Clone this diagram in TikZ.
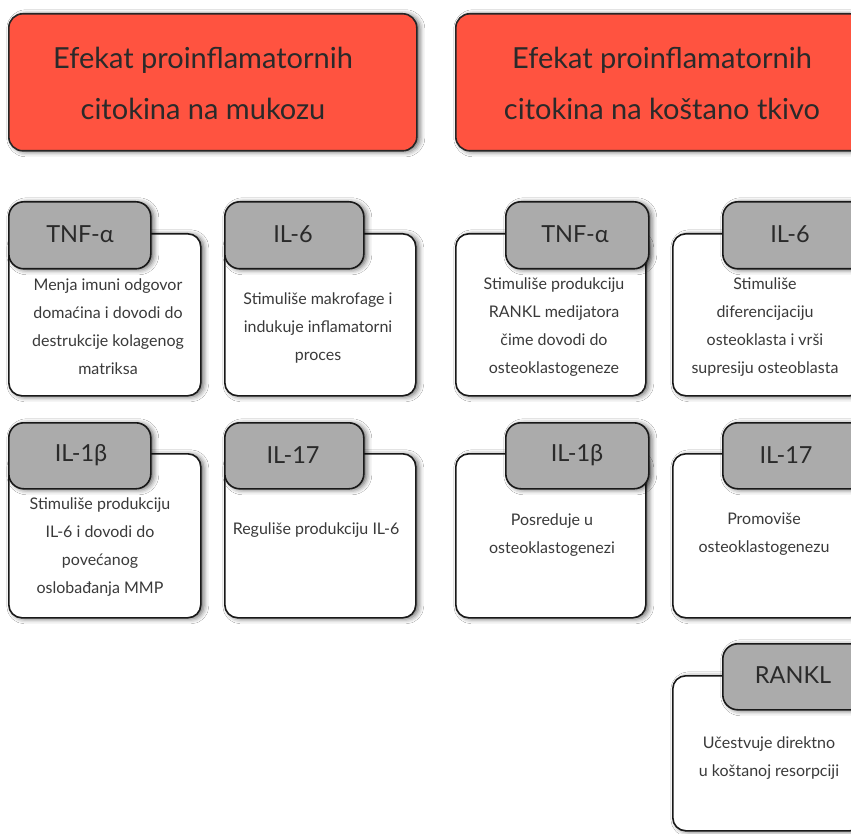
\documentclass[tikz,border=0pt]{standalone}
\usepackage{fontspec}
\setmainfont{Lato}
\usetikzlibrary{shadows.blur}
\definecolor{titlered}{HTML}{FF5340}
\definecolor{headgray}{HTML}{ABABAB}
\definecolor{txt}{HTML}{2A2A2A}
\definecolor{bodytxt}{HTML}{3A3A3A}
\tikzset{
  shad/.style={blur shadow={shadow xshift=3pt, shadow yshift=-1pt, shadow blur radius=5pt, shadow opacity=60}},
  titlebox/.style={draw=black!85, line width=1.6pt, fill=titlered, rounded corners=14pt, shad,
    minimum width=408pt, minimum height=137pt, anchor=north west, inner sep=0pt},
  cardbox/.style={draw=black!90, line width=1.6pt, fill=white, rounded corners=13pt, shad,
    minimum width=191pt, anchor=north west, inner sep=0pt},
  headbox/.style={draw=black!90, line width=1.6pt, fill=headgray, rounded corners=15pt, shad,
    minimum height=67pt, anchor=north west, inner sep=0pt},
  titletext/.style={align=center, text=txt, font=\fontsize{29}{51}\selectfont},
  headtext/.style={text=txt, font=\fontsize{23.5}{28}\selectfont},
  bodytext/.style={align=center, text=bodytxt, font=\fontsize{16}{28}\selectfont},
}
\begin{document}
\begin{tikzpicture}[x=1pt,y=-1pt]
\clip (0,0) rectangle (851,834);
\fill[white] (0,0) rectangle (851,834);
% titles
\node[titlebox] (tL) at (8,13) {};
\node[titlebox] (tR) at (455,13) {};
\node[titletext] (tLt) at (203,83) {Efekat proinflamatornih\\citokina na mukozu};
\node[titletext] (tRt) at (662,83) {Efekat proinflamatornih\\citokina na koštano tkivo};
% left column, row 1
\node[cardbox, minimum height=162pt, minimum width=192pt] (c1) at (8,233) {};
\node[headbox, minimum width=142pt] (h1) at (8,201) {};
\node[cardbox, minimum height=162pt] (c2) at (224,233) {};
\node[headbox, minimum width=139pt] (h2) at (224,201) {};
% left column, row 2
\node[cardbox, minimum height=164pt, minimum width=192pt] (c3) at (8,453) {};
\node[headbox, minimum width=142pt, minimum height=66pt] (h3) at (8,422) {};
\node[cardbox, minimum height=164pt] (c4) at (224,453) {};
\node[headbox, minimum width=139pt, minimum height=66pt] (h4) at (224,422) {};
% right column, row 1
\node[cardbox, minimum height=162pt, minimum width=190pt] (c5) at (455,233) {};
\node[headbox, minimum width=143pt] (h5) at (505,201) {};
\node[cardbox, minimum height=162pt, minimum width=190pt] (c6) at (672,233) {};
\node[headbox, minimum width=143pt] (h6) at (722,201) {};
% right column, row 2
\node[cardbox, minimum height=164pt, minimum width=190pt] (c7) at (455,453) {};
\node[headbox, minimum width=143pt, minimum height=66pt] (h7) at (505,422) {};
\node[cardbox, minimum height=164pt, minimum width=190pt] (c8) at (672,453) {};
\node[headbox, minimum width=143pt, minimum height=66pt] (h8) at (722,422) {};
% RANKL
\node[cardbox, minimum height=155pt, minimum width=190pt] (c9) at (672,675) {};
\node[headbox, minimum width=143pt, minimum height=66pt] (h9) at (722,643) {};
% header texts
\node[headtext] (h1t) at (80,234) {TNF-α};
\node[headtext] (h2t) at (293,234) {IL-6};
\node[headtext] (h3t) at (81,455) {IL-1β};
\node[headtext] (h4t) at (293,455) {IL-17};
\node[headtext] (h5t) at (575,234) {TNF-α};
\node[headtext] (h6t) at (790,234) {IL-6};
\node[headtext] (h7t) at (577,455) {IL-1β};
\node[headtext] (h8t) at (786,455) {IL-17};
\node[headtext] (h9t) at (793,675) {RANKL};
% body texts
\node[bodytext] (b1) at (108,327) {Menja imuni odgovor\\domaćina i dovodi do\\destrukcije kolagenog\\matriksa};
\node[bodytext] (b2) at (318,328) {Stimuliše makrofage i\\indukuje inflamatorni\\proces};
\node[bodytext] (b3) at (100,547) {Stimuliše produkciju\\IL-6 i dovodi do\\povećanog\\oslobađanja MMP};
\node[bodytext] (b4) at (316,530) {Reguliše produkciju IL-6};
\node[bodytext] (b5) at (554,327) {Stimuliše produkciju\\RANKL medijatora\\čime dovodi do\\osteoklastogeneze};
\node[bodytext] (b6) at (765,327) {Stimuliše\\diferencijaciju\\osteoklasta i vrši\\supresiju osteoblasta};
\node[bodytext] (b7) at (552,535) {Posreduje u\\osteoklastogenezi};
\node[bodytext] (b8) at (764,534) {Promoviše\\osteoklastogenezu};
\node[bodytext] (b9) at (769,758) {Učestvuje direktno\\u koštanoj resorpciji};
\end{tikzpicture}
\end{document}
